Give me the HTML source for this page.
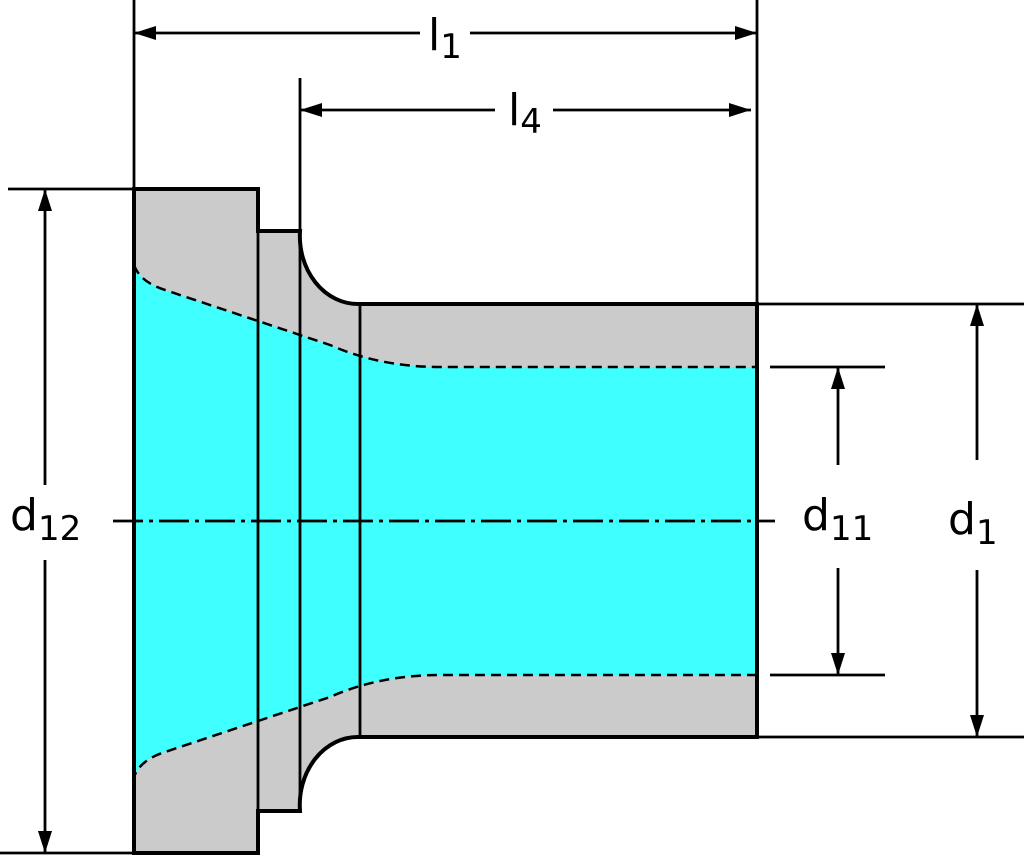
<!DOCTYPE html>
<html><head><style>body{margin:0;background:#fff}svg{display:block}</style></head><body>
<svg width="1024" height="858" viewBox="0 0 1024 858" xmlns="http://www.w3.org/2000/svg" font-family="'DejaVu Sans', 'Liberation Sans', sans-serif">
<defs><marker id="a" viewBox="0 0 22 14" refX="22" refY="7" markerWidth="22" markerHeight="14" markerUnits="userSpaceOnUse" orient="auto-start-reverse"><path d="M0,0 L22,7 L0,14 Z" fill="#000"/></marker></defs>
<path d="M134,189 H258 V231 H300 A58,68 0 0 0 358,304 H757 V737 H358 A58,68 0 0 0 300,811 H258 V853 H134 Z" fill="#cbcbcb"/>
<path d="M134,265 Q140,282 165,290 L330,345 Q380,367 440,367 H757 V675 H440 Q380,675 330,697 L165,752 Q140,760 134,777 Z" fill="#40ffff"/>
<path d="M134,265 Q140,282 165,290 L330,345 Q380,367 440,367 H757 M757,675 H440 Q380,675 330,697 L165,752 Q140,760 134,777" fill="none" stroke="#000" stroke-width="2.5" stroke-dasharray="10,6"/>
<path d="M134,189 H258 V231 H300 A58,68 0 0 0 358,304 H757 V737 H358 A58,68 0 0 0 300,811 H258 V853 H134 Z" fill="none" stroke="#000" stroke-width="4"/>
<g stroke="#000" stroke-width="2.8" fill="none">
<line x1="258" y1="231" x2="258" y2="811"/>
<line x1="300" y1="78" x2="300" y2="811"/>
<line x1="360" y1="304" x2="360" y2="737"/>
<line x1="134" y1="0" x2="134" y2="189"/>
<line x1="757" y1="0" x2="757" y2="304"/>
<line x1="8" y1="189" x2="134" y2="189"/>
<line x1="0" y1="853" x2="134" y2="853"/>
<line x1="757" y1="304" x2="1024" y2="304"/>
<line x1="757" y1="737" x2="1024" y2="737"/>
<line x1="770" y1="367" x2="885" y2="367"/>
<line x1="770" y1="675" x2="885" y2="675"/>
<line x1="113" y1="521" x2="775" y2="521" stroke-dasharray="30,6,4,6"/>
<line x1="134" y1="33" x2="420" y2="33" marker-start="url(#a)"/>
<line x1="470" y1="33" x2="757" y2="33" marker-end="url(#a)"/>
<line x1="300" y1="110" x2="495" y2="110" marker-start="url(#a)"/>
<line x1="553" y1="110" x2="751" y2="110" marker-end="url(#a)"/>
<line x1="45" y1="189" x2="45" y2="485" marker-start="url(#a)"/>
<line x1="45" y1="560" x2="45" y2="853" marker-end="url(#a)"/>
<line x1="838" y1="367" x2="838" y2="465" marker-start="url(#a)"/>
<line x1="838" y1="568" x2="838" y2="675" marker-end="url(#a)"/>
<line x1="977" y1="304" x2="977" y2="460" marker-start="url(#a)"/>
<line x1="977" y1="570" x2="977" y2="737" marker-end="url(#a)"/>
</g>
<g font-size="44" fill="#000">
<text x="428" y="50">l<tspan font-size="34" dy="8">1</tspan></text>
<text x="508" y="125">l<tspan font-size="34" dy="8">4</tspan></text>
<text x="10" y="530">d<tspan font-size="34" dy="10">12</tspan></text>
<text x="802" y="530">d<tspan font-size="34" dy="10">11</tspan></text>
<text x="948" y="534">d<tspan font-size="34" dy="10">1</tspan></text>
</g>
</svg>
</body></html>
